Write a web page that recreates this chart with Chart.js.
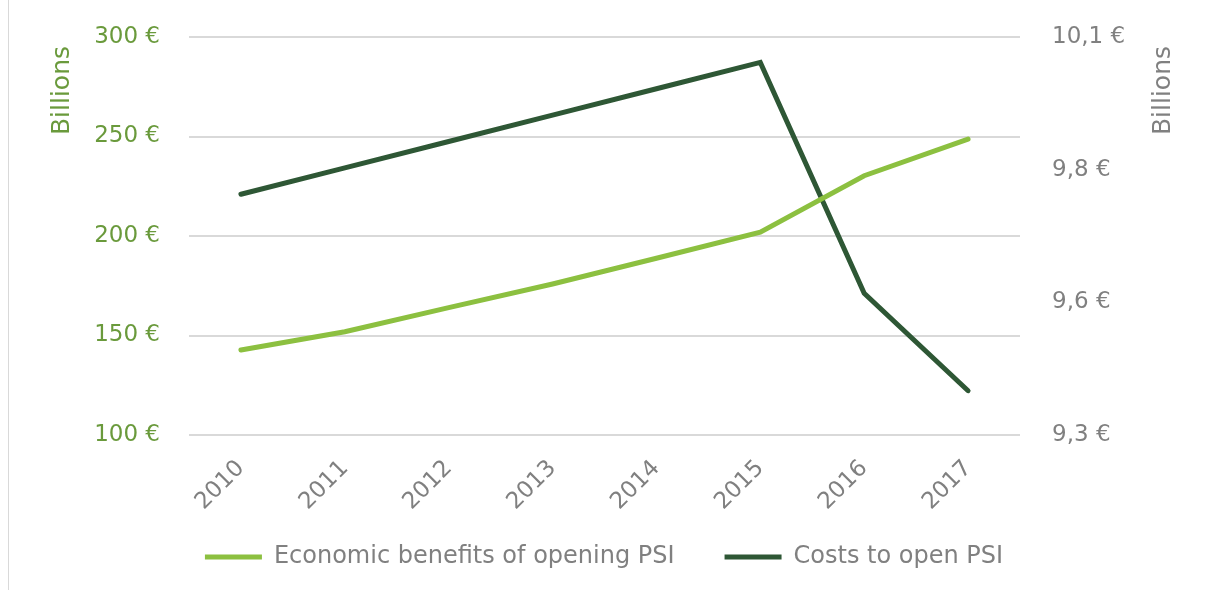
<!DOCTYPE html>
<html>
<head>
<meta charset="utf-8">
<script src="https://cdn.jsdelivr.net/npm/chart.js@4/dist/chart.umd.min.js"></script>
<style>
  body { margin: 0; background: #fff; }
</style>
</head>
<body>
<canvas id="myChart" width="1208" height="590"></canvas>
<script>
const years = ["2010", "2011", "2012", "2013", "2014", "2015", "2016", "2017"];
const benefits = [142.7, 151.9, 164.0, 175.9, 188.8, 201.9, 230.3, 248.7];
const costs = [9.784, 9.837, 9.890, 9.943, 9.996, 10.049, 9.585, 9.389];
const leftTicks = [100, 150, 200, 250, 300];
const rightTicks = [9.3, 9.567, 9.833, 10.1];
const axisTitle = "Billions";

const lightGreen = "#8cc040";
const darkGreen = "#2e5735";
const oliveText = "#6a9a3c";
const greyText = "#808080";
const font = "'DejaVu Sans', Verdana, sans-serif";

// axis titles: both read bottom-to-top, sitting at the top of the plot
const titles = {
  id: "titles",
  afterDraw(chart) {
    const ctx = chart.ctx;
    const top = chart.chartArea.top;
    ctx.save();
    ctx.strokeStyle = "#d9d9d9";
    ctx.lineWidth = 1;
    ctx.beginPath();
    ctx.moveTo(8.5, 0);
    ctx.lineTo(8.5, 590);
    ctx.stroke();
    ctx.font = "25px " + font;
    ctx.textBaseline = "middle";
    ctx.textAlign = "right";
    [[62, oliveText], [1163, greyText]].forEach(([x, col]) => {
      ctx.save();
      ctx.translate(x, top + 9);
      ctx.rotate(-Math.PI / 2);
      ctx.fillStyle = col;
      ctx.fillText(axisTitle, 0, 0);
      ctx.restore();
    });
    ctx.restore();
  }
};

const fmtRight = (v) => v.toFixed(1).replace(".", ",") + " €";

// y axes: no extra top/bottom padding so the plot starts where the padding says
const noPad = (s, w) => {
  s.width = w;
  s.paddingTop = 0;
  s.paddingBottom = 0;
};

new Chart(document.getElementById("myChart"), {
  type: "line",
  data: {
    labels: years,
    datasets: [
      {
        label: "Economic benefits of opening PSI",
        data: benefits,
        borderColor: lightGreen,
        backgroundColor: lightGreen,
        borderWidth: 5,
        borderCapStyle: "round",
        pointRadius: 0,
        yAxisID: "y",
      },
      {
        label: "Costs to open PSI",
        data: costs,
        borderColor: darkGreen,
        backgroundColor: darkGreen,
        borderWidth: 5,
        borderCapStyle: "round",
        pointRadius: 0,
        yAxisID: "y1",
      },
    ],
  },
  options: {
    responsive: false,
    animation: false,
    layout: { padding: { top: 37, bottom: 11, left: 0, right: 0 } },
    scales: {
      x: {
        offset: true,
        grid: { display: false, drawTicks: false },
        border: { display: false },
        ticks: {
          color: greyText,
          font: { family: font, size: 23 },
          minRotation: 45,
          maxRotation: 45,
          padding: 20,
        },
        afterFit: (s) => {
          s.height = 60;
          s._computeLabelArea = () => null; // let rotated labels run past the box
        },
      },
      y: {
        position: "left",
        min: 100,
        max: 300,
        afterBuildTicks: (s) => { s.ticks = leftTicks.map((v) => ({ value: v })); },
        grid: { color: "#d9d9d9", lineWidth: 2, drawTicks: false },
        border: { display: false },
        ticks: {
          color: oliveText,
          font: { family: font, size: 23 },
          padding: 29,
          callback: (v) => v + " €",
        },
        afterFit: (s) => noPad(s, 189),
      },
      y1: {
        position: "right",
        min: 9.3,
        max: 10.1,
        afterBuildTicks: (s) => { s.ticks = rightTicks.map((v) => ({ value: v })); },
        grid: { display: false, drawTicks: false },
        border: { display: false },
        ticks: {
          color: greyText,
          font: { family: font, size: 23 },
          padding: 32,
          callback: (v) => fmtRight(v),
        },
        afterFit: (s) => noPad(s, 188),
      },
    },
    plugins: {
      legend: {
        position: "bottom",
        labels: {
          color: greyText,
          font: { family: font, size: 24 },
          usePointStyle: true,
          pointStyle: "line",
          pointStyleWidth: 57,
          padding: 50,
        },
      },
      tooltip: { enabled: false },
    },
  },
  plugins: [titles],
});
</script>
</body>
</html>
